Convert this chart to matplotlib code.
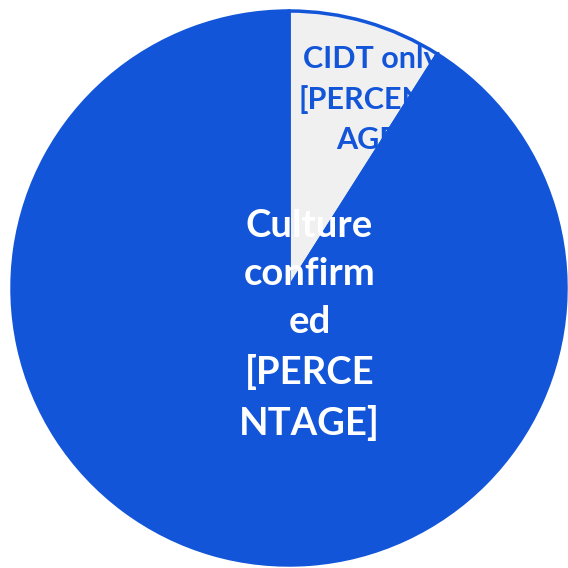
import matplotlib.pyplot as plt

# chart data
labels = ['CIDT only\n[PERCENT\nAGE]', 'Culture\nconfirm\ned\n[PERCE\nNTAGE]']
values = [9, 91]
colors = ['#F0F0F0', '#1255D9']
text_colors = ['#1255D9', '#FFFFFF']

BLUE = '#1255D9'

fig = plt.figure(figsize=(5.68, 5.68), dpi=100)
# circle centre (289, 288) px, radius 277 px
cx, cy, r = 289 / 568, (568 - 288) / 568, 277 / 568
ax = fig.add_axes([cx - r, cy - r, 2 * r, 2 * r])

wedges, _ = ax.pie(values, colors=colors, startangle=90, counterclock=False,
                   radius=1, wedgeprops=dict(edgecolor=BLUE, linewidth=2.5))
wedges[0].set_zorder(1)
wedges[1].set_zorder(3)
ax.set_xlim(-1, 1)
ax.set_ylim(-1, 1)
ax.set_aspect('equal')
ax.axis('off')

# label positions in data units (blue label sits under the blue wedge, like the original)
label_pos = [(0.297, 0.68), (0.074, -0.135)]
label_size = [22, 27.5]
label_spacing = [1.5, 1.5]
label_z = [2, 4]
for lab, (x, y), fs, ls, tc, z in zip(labels, label_pos, label_size, label_spacing,
                                       text_colors, label_z):
    ax.text(x, y, lab, ha='center', va='center', multialignment='center',
            fontsize=fs, fontweight='bold', family='Lato', color=tc,
            linespacing=ls, zorder=z)

fig.savefig('out.png', dpi=100)
